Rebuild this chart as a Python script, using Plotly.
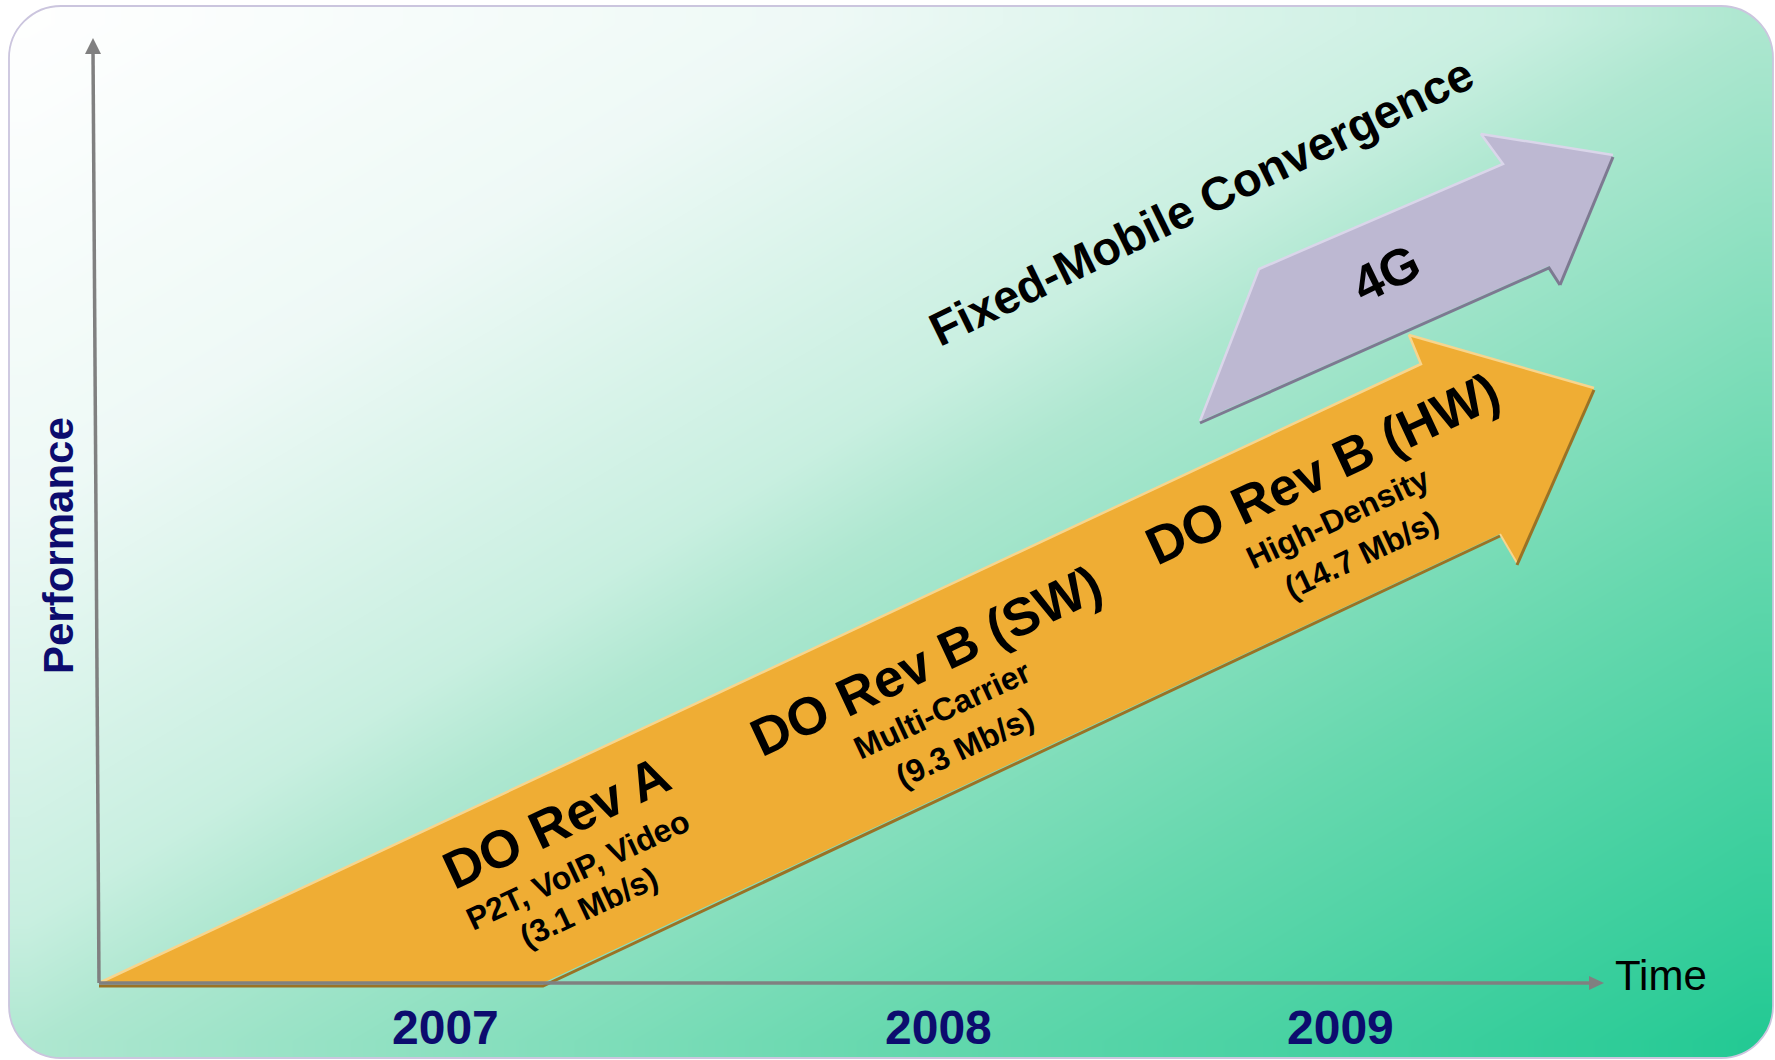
import plotly.graph_objects as go

# ---------------- data (origin = axis corner; x = time, y = performance) ----------------
rev_arrow_x = [0, 444, 1401, 1418, 1495, 1310, 1322]
rev_arrow_y = [0, 0, 449, 420, 595, 648, 619]

g4_arrow_x = [1101, 1160, 1404, 1382, 1514, 1461, 1450]
g4_arrow_y = [562, 714, 819, 849, 828, 700, 717]

years = ["2007", "2008", "2009"]
year_x = [346, 839, 1241]
year_y = -44

labels_main = ["DO Rev A", "DO Rev B (SW)", "DO Rev B (HW)"]
labels_main_x = [457, 827, 1223]
labels_main_y = [161, 323, 515]

labels_sub1 = ["P2T, VoIP, Video", "Multi-Carrier", "High-Density"]
labels_sub1_x = [479, 843, 1239]
labels_sub1_y = [113, 273, 465]

labels_sub2 = ["(3.1 Mb/s)", "(9.3 Mb/s)", "(14.7 Mb/s)"]
labels_sub2_x = [490, 866, 1262]
labels_sub2_y = [76, 236, 428]

y_axis_x = [0, -6]
y_axis_y = [0, 945]
x_axis_x = [0, 1505]
x_axis_y = [0, 0]

frame_x = [-90, 1674]
frame_y = [-75, 977]
frame_r = 52

FONT = "Liberation Sans, Arial, sans-serif"
NAVY = "#0c0c6e"
ORANGE = "#EFAD34"
LAV = "#BDB8D2"

fig = go.Figure()

# ---------------- background gradient ----------------
nx, ny = 48, 30
hx = [frame_x[0] + (frame_x[1] - frame_x[0]) * i / nx for i in range(nx + 1)]
hy = [frame_y[0] + (frame_y[1] - frame_y[0]) * j / ny for j in range(ny + 1)]
hz = []
for j in range(ny):
    row = []
    v = 1 - (j + 0.5) / ny
    for i in range(nx):
        u = (i + 0.5) / nx
        row.append((u + v) / 2)
    hz.append(row)
fig.add_trace(go.Heatmap(
    x=hx, y=hy, z=hz, zmin=0, zmax=1, zsmooth="best", showscale=False, hoverinfo="skip",
    colorscale=[[0, "#ffffff"], [0.24, "#eef9f6"], [0.44, "#c8efe0"], [0.5, "#aee7d0"],
                [0.74, "#66d8ae"], [0.95, "#2ecc98"], [1, "#1fc892"]]))

# ---------------- arrows ----------------
def close(a):
    return list(a) + [a[0]]

fig.add_trace(go.Scatter(x=close(rev_arrow_x), y=close(rev_arrow_y), fill="toself", fillcolor=ORANGE,
                         mode="lines", line=dict(width=0, color=ORANGE), hoverinfo="skip"))
ax_, ay_ = rev_arrow_x, rev_arrow_y
fig.add_trace(go.Scatter(x=[ax_[0], ax_[6], ax_[5], ax_[4]], y=[ay_[0], ay_[6], ay_[5], ay_[4]],
                         mode="lines", line=dict(width=2.5, color="#F7D58E"), hoverinfo="skip"))
fig.add_trace(go.Scatter(x=[ax_[2], ax_[3]], y=[ay_[2], ay_[3]],
                         mode="lines", line=dict(width=2.0, color="#F7D58E"), hoverinfo="skip"))
fig.add_trace(go.Scatter(x=[ax_[4], ax_[3]], y=[ay_[4] - 2, ay_[3] - 2],
                         mode="lines", line=dict(width=3, color="#9A7225"), hoverinfo="skip"))
fig.add_trace(go.Scatter(x=[ax_[0], ax_[1], ax_[2]], y=[ay_[0] - 3, ay_[1] - 3, ay_[2] - 2],
                         mode="lines", line=dict(width=3, color="#9A7225"), hoverinfo="skip"))

gx, gy = g4_arrow_x, g4_arrow_y
fig.add_trace(go.Scatter(x=close(gx), y=close(gy), fill="toself", fillcolor=LAV,
                         mode="lines", line=dict(width=0, color=LAV), hoverinfo="skip"))
fig.add_trace(go.Scatter(x=[gx[0], gx[1], gx[2], gx[3], gx[4]], y=[gy[0], gy[1], gy[2], gy[3], gy[4]],
                         mode="lines", line=dict(width=2.5, color="#DAD6EA"), hoverinfo="skip"))
fig.add_trace(go.Scatter(x=[gx[4], gx[5]], y=[gy[4] - 2, gy[5] - 2],
                         mode="lines", line=dict(width=3, color="#7D7991"), hoverinfo="skip"))
fig.add_trace(go.Scatter(x=[gx[5], gx[6], gx[0]], y=[gy[5] - 2, gy[6] - 2, gy[0] - 2],
                         mode="lines", line=dict(width=3, color="#7D7991"), hoverinfo="skip"))

# ---------------- axes with arrowheads ----------------
AX = "#808080"
fig.add_trace(go.Scatter(x=y_axis_x, y=[y_axis_y[0], y_axis_y[1] - 12], mode="lines",
                         line=dict(width=3.5, color=AX), hoverinfo="skip"))
fig.add_trace(go.Scatter(x=[x_axis_x[0], x_axis_x[1] - 12], y=x_axis_y, mode="lines",
                         line=dict(width=3.5, color=AX), hoverinfo="skip"))
tx, ty = y_axis_x[1], y_axis_y[1]
fig.add_trace(go.Scatter(x=[tx, tx - 8, tx + 8, tx], y=[ty, ty - 16, ty - 16, ty], fill="toself",
                         fillcolor=AX, mode="lines", line=dict(width=0, color=AX), hoverinfo="skip"))
tx, ty = x_axis_x[1], x_axis_y[1]
fig.add_trace(go.Scatter(x=[tx, tx - 15, tx - 15, tx], y=[ty, ty + 7, ty - 7, ty], fill="toself",
                         fillcolor=AX, mode="lines", line=dict(width=0, color=AX), hoverinfo="skip"))

# ---------------- frame (rounded) ----------------
x0, x1 = frame_x
y0, y1 = frame_y
r = frame_r
k = 0.5523 * r
border = (f"M {x0+r},{y1} L {x1-r},{y1} C {x1-r+k},{y1} {x1},{y1-r+k} {x1},{y1-r} "
          f"L {x1},{y0+r} C {x1},{y0+r-k} {x1-r+k},{y0} {x1-r},{y0} "
          f"L {x0+r},{y0} C {x0+r-k},{y0} {x0},{y0+r-k} {x0},{y0+r} "
          f"L {x0},{y1-r} C {x0},{y1-r+k} {x0+r-k},{y1} {x0+r},{y1} Z")
masks = [
    f"M {x0-4},{y1+4} L {x0+r},{y1+4} L {x0+r},{y1} C {x0+r-k},{y1} {x0},{y1-r+k} {x0},{y1-r} L {x0-4},{y1-r} Z",
    f"M {x1+4},{y1+4} L {x1-r},{y1+4} L {x1-r},{y1} C {x1-r+k},{y1} {x1},{y1-r+k} {x1},{y1-r} L {x1+4},{y1-r} Z",
    f"M {x0-4},{y0-4} L {x0+r},{y0-4} L {x0+r},{y0} C {x0+r-k},{y0} {x0},{y0+r-k} {x0},{y0+r} L {x0-4},{y0+r} Z",
    f"M {x1+4},{y0-4} L {x1-r},{y0-4} L {x1-r},{y0} C {x1-r+k},{y0} {x1},{y0+r-k} {x1},{y0+r} L {x1+4},{y0+r} Z",
]
shapes = [dict(type="path", path=m, xref="x", yref="y", fillcolor="white",
               line=dict(width=0), layer="above") for m in masks]
shapes.append(dict(type="path", path=border, xref="x", yref="y", line=dict(color="#CBC5DE", width=1.8),
                   fillcolor="rgba(0,0,0,0)", layer="above"))

# ---------------- text ----------------
ann = []
def add(text, x, y, size, color="black", angle=0, bold=True):
    ann.append(dict(text=(f"<b>{text}</b>" if bold else text), x=x, y=y, xref="x", yref="y",
                    showarrow=False, textangle=angle, xanchor="center", yanchor="middle",
                    font=dict(family=FONT, size=size, color=color)))

for t, x, y in zip(labels_main, labels_main_x, labels_main_y):
    add(t, x, y, 53, angle=-25)
for t, x, y in zip(labels_sub1, labels_sub1_x, labels_sub1_y):
    add(t, x, y, 32, angle=-25)
for t, x, y in zip(labels_sub2, labels_sub2_x, labels_sub2_y):
    add(t, x, y, 32, angle=-25)
add("Fixed-Mobile Convergence", 1102, 782, 47, angle=-26)
add("4G", 1287, 710, 51, angle=-26)
for t, x in zip(years, year_x):
    add(t, x, year_y, 48, color=NAVY)
add("Time", 1562, 8, 42, bold=False)
add("Performance", -41, 437, 42, color=NAVY, angle=-90)

fig.update_layout(
    width=1775, height=1060, margin=dict(l=0, r=0, t=0, b=0),
    paper_bgcolor="white", plot_bgcolor="white", showlegend=False,
    xaxis=dict(range=[-99, 1676], visible=False, fixedrange=True),
    yaxis=dict(range=[-77, 983], visible=False, fixedrange=True),
    shapes=shapes, annotations=ann, hovermode=False,
)

fig.write_html("out.html", config={"displayModeBar": False},
               post_script="document.body.style.margin='0';document.body.style.overflow='hidden';")
